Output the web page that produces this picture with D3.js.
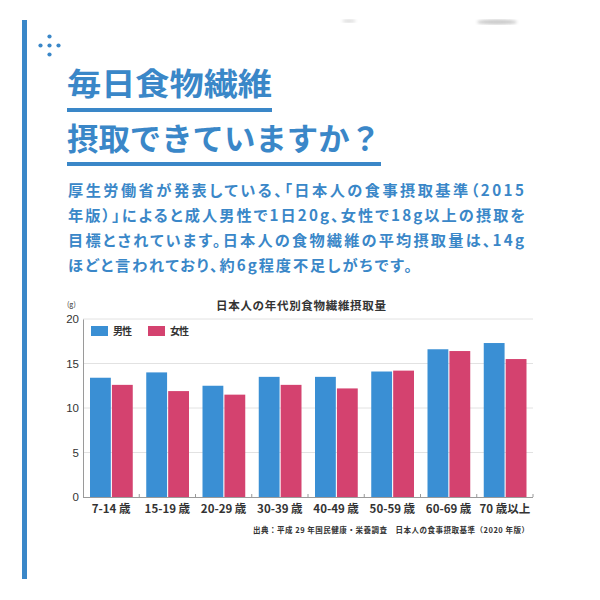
<!DOCTYPE html>
<html lang="ja">
<head>
<meta charset="UTF-8">
<title>日本人の年代別食物繊維摂取量</title>
<script src="https://d3js.org/d3.v7.min.js"></script>
<style>
  body { margin: 0; padding: 0; background: #fff; }
  svg { display: block; font-family: "Noto Sans CJK JP", "Noto Sans", sans-serif; }
  .palt { font-feature-settings: "palt"; }
</style>
</head>
<body>
<div id="chart"></div>
<script>
// data
const ageGroups = ["7-14 歳", "15-19 歳", "20-29 歳", "30-39 歳", "40-49 歳", "50-59 歳", "60-69 歳", "70 歳以上"];
const maleValues = [13.4, 14.0, 12.5, 13.5, 13.5, 14.1, 16.6, 17.3];
const femaleValues = [12.6, 11.9, 11.5, 12.6, 12.2, 14.2, 16.4, 15.5];
const seriesNames = ["男性", "女性"];
const yTicks = [0, 5, 10, 15, 20];

const titleLines = ["毎日食物繊維", "摂取できていますか？"];
const bodyLines = [
  "厚生労働省が発表している、「日本人の食事摂取基準（2015",
  "年版）」によると成人男性で1日20g、女性で18g以上の摂取を",
  "目標とされています。日本人の食物繊維の平均摂取量は、14g",
  "ほどと言われており、約6g程度不足しがちです。"
];
const chartTitle = "日本人の年代別食物繊維摂取量";
const sourceText = "出典：平成 29 年国民健康・栄養調査　日本人の食事摂取基準（2020 年版）";

const blue = "#3a8fd4";
const pink = "#d4426f";
const accent = "#3a87c8";

const svg = d3.select("#chart").append("svg")
  .attr("width", 600)
  .attr("height", 600);

// faint grey smudges at the top edge of the photo
const defs = svg.append("defs");
defs.append("filter").attr("id", "blur")
  .append("feGaussianBlur").attr("stdDeviation", 1.6);
[[349, 21, 7, 1.5, 0.35], [497, 22, 20, 2.5, 0.45]].forEach(([cx, cy, rx, ry, op]) => {
  svg.append("ellipse")
    .attr("cx", cx).attr("cy", cy).attr("rx", rx).attr("ry", ry)
    .attr("fill", "#888").attr("opacity", op)
    .attr("filter", "url(#blur)");
});

// left accent bar
svg.append("rect")
  .attr("x", 22).attr("y", 20)
  .attr("width", 5).attr("height", 559)
  .attr("fill", accent);

// little dot icon
[[0, -9], [-9, 0], [0, 0], [9, 0], [0, 9]].forEach(([dx, dy]) => {
  svg.append("circle")
    .attr("cx", 49.5 + dx).attr("cy", 45.5 + dy)
    .attr("r", 2.1)
    .attr("fill", accent);
});

// heading
const titleWidths = [205, 314];
const titleBase = [95, 150];
const ruleY = [108, 162];
titleLines.forEach((t, i) => {
  svg.append("text")
    .attr("x", 67).attr("y", titleBase[i])
    .attr("font-size", 31)
    .attr("font-weight", 700)
    .attr("fill", accent)
    .attr("textLength", titleWidths[i])
    .attr("lengthAdjust", "spacingAndGlyphs")
    .text(t);
  svg.append("rect")
    .attr("x", 67).attr("y", ruleY[i])
    .attr("width", titleWidths[i]).attr("height", 4)
    .attr("fill", accent);
});

// body paragraph
const bodyWidths = [456, 457, 456, 344];
bodyLines.forEach((t, i) => {
  svg.append("text")
    .attr("class", "palt")
    .attr("x", 68).attr("y", 196 + i * 25)
    .attr("font-size", 15.2)
    .attr("font-weight", 700)
    .attr("fill", accent)
    .attr("textLength", bodyWidths[i])
    .attr("lengthAdjust", "spacing")
    .text(t);
});

// chart
const margin = {left: 83, right: 533, top: 319, bottom: 497};

const x = d3.scaleBand()
  .domain(ageGroups)
  .range([margin.left, margin.right]);

const xSeries = d3.scaleBand()
  .domain(seriesNames)
  .range([7, x.bandwidth() - 6.5])
  .paddingInner(0.05);

const y = d3.scaleLinear()
  .domain([0, 20])
  .range([margin.bottom, margin.top]);

// grid
svg.append("g")
  .selectAll("line")
  .data(yTicks.filter(d => d > 0))
  .join("line")
  .attr("x1", margin.left).attr("x2", margin.right)
  .attr("y1", d => y(d)).attr("y2", d => y(d))
  .attr("stroke", "#e2e2e2")
  .attr("stroke-width", 1);

// y axis
const yAxis = svg.append("g")
  .attr("transform", `translate(${margin.left},0)`)
  .call(d3.axisLeft(y).tickValues(yTicks).tickSize(0).tickPadding(4));
yAxis.select(".domain").attr("stroke", "#9a9a9a");
yAxis.selectAll("text")
  .attr("font-size", 11.5)
  .attr("font-family", "Liberation Sans, Arial, sans-serif")
  .attr("fill", "#333");

svg.append("text")
  .attr("x", 67).attr("y", 307)
  .attr("font-size", 7)
  .attr("fill", "#333")
  .text("(g)");

// chart title
svg.append("text")
  .attr("x", 301).attr("y", 310)
  .attr("text-anchor", "middle")
  .attr("font-size", 11.5)
  .attr("font-weight", 700)
  .attr("fill", "#333")
  .attr("textLength", 170)
  .attr("lengthAdjust", "spacing")
  .text(chartTitle);

// bars
const rows = ageGroups.map((g, i) => ({group: g, values: [maleValues[i], femaleValues[i]]}));
const colors = d3.scaleOrdinal().domain(seriesNames).range([blue, pink]);

svg.append("g")
  .selectAll("g")
  .data(rows)
  .join("g")
  .attr("transform", d => `translate(${x(d.group)},0)`)
  .selectAll("rect")
  .data(d => d.values.map((v, k) => ({key: seriesNames[k], value: v})))
  .join("rect")
  .attr("x", d => xSeries(d.key))
  .attr("y", d => y(d.value))
  .attr("width", xSeries.bandwidth())
  .attr("height", d => y(0) - y(d.value))
  .attr("fill", d => colors(d.key));

// x axis
svg.append("line")
  .attr("x1", margin.left).attr("x2", margin.right)
  .attr("y1", y(0) + 0.5).attr("y2", y(0) + 0.5)
  .attr("stroke", "#9a9a9a");

svg.append("g")
  .selectAll("line")
  .data(ageGroups.slice(1).concat(["end"]))
  .join("line")
  .attr("x1", (d, i) => margin.left + (i + 1) * x.step())
  .attr("x2", (d, i) => margin.left + (i + 1) * x.step())
  .attr("y1", y(0) - 3).attr("y2", y(0))
  .attr("stroke", "#9a9a9a");

svg.append("g")
  .selectAll("text")
  .data(ageGroups)
  .join("text")
  .attr("x", d => x(d) + x.bandwidth() / 2)
  .attr("y", 513)
  .attr("text-anchor", "middle")
  .attr("font-size", 11.5)
  .attr("font-weight", 600)
  .attr("fill", "#333")
  .text(d => d);

// legend
seriesNames.forEach((s, i) => {
  const lx = 91 + i * 57;
  svg.append("rect")
    .attr("x", lx).attr("y", 326)
    .attr("width", 17).attr("height", 10)
    .attr("fill", colors(s));
  svg.append("text")
    .attr("x", lx + 22).attr("y", 335)
    .attr("font-size", 10)
    .attr("font-weight", 700)
    .attr("fill", "#333")
    .attr("textLength", 19)
    .attr("lengthAdjust", "spacing")
    .text(s);
});

// source
svg.append("text")
  .attr("x", 529).attr("y", 533)
  .attr("text-anchor", "end")
  .attr("font-size", 7.5)
  .attr("font-weight", 700)
  .attr("fill", "#333")
  .attr("textLength", 276)
  .attr("lengthAdjust", "spacing")
  .text(sourceText);
</script>
</body>
</html>
